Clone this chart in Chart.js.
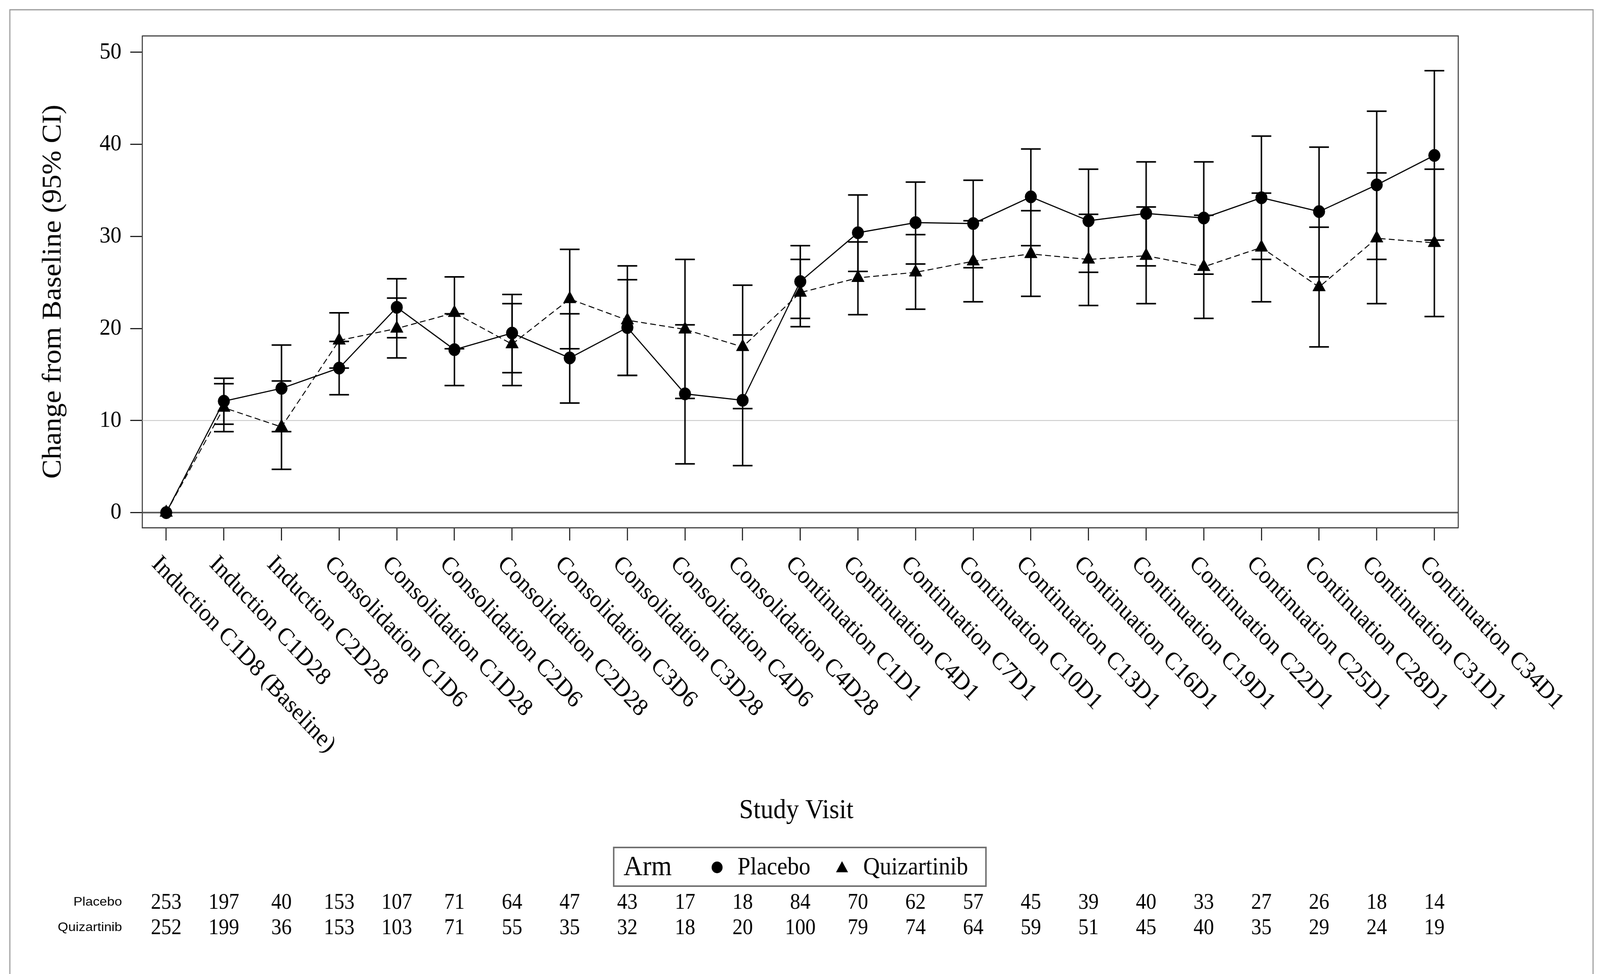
<!DOCTYPE html>
<html>
<head>
<meta charset="utf-8">
<title>Change from Baseline by Study Visit</title>
<script src="https://cdn.jsdelivr.net/npm/chart.js@4.4.1/dist/chart.umd.min.js"></script>
<style>
  html, body { margin: 0; padding: 0; background: #fff; overflow: hidden; }
  canvas { display: block; }
</style>
</head>
<body>
<canvas id="visitChart" width="4380" height="2494" style="width:100vw;height:100vh"></canvas>
<script>
var visits = ['Induction C1D8 (Baseline)', 'Induction C1D28', 'Induction C2D28',
  'Consolidation C1D6', 'Consolidation C1D28', 'Consolidation C2D6', 'Consolidation C2D28',
  'Consolidation C3D6', 'Consolidation C3D28', 'Consolidation C4D6', 'Consolidation C4D28',
  'Continuation C1D1', 'Continuation C4D1', 'Continuation C7D1', 'Continuation C10D1',
  'Continuation C13D1', 'Continuation C16D1', 'Continuation C19D1', 'Continuation C22D1',
  'Continuation C25D1', 'Continuation C28D1', 'Continuation C31D1', 'Continuation C34D1'];

// mean change and 95% CI
var placeboMean  = [0, 12.1, 13.5, 15.7, 22.3, 17.7, 19.5, 16.8, 20.1, 12.9, 12.2, 25.1, 30.4, 31.5, 31.4, 34.3, 31.7, 32.5, 32.0, 34.2, 32.7, 35.6, 38.8];
var placeboLower = [null, 9.6, 8.8, 12.8, 19.0, 13.8, 15.2, 11.9, 14.9, 5.3, 5.1, 21.1, 26.2, 27.0, 26.6, 29.0, 26.1, 26.8, 25.9, 27.5, 25.6, 27.5, 29.6];
var placeboUpper = [null, 14.6, 18.2, 18.6, 25.4, 21.6, 23.7, 21.6, 25.3, 20.4, 19.3, 29.0, 34.5, 35.9, 36.1, 39.5, 37.3, 38.1, 38.1, 40.9, 39.7, 43.6, 48.0];

var quizMean  = [0, 11.4, 9.3, 18.7, 20.0, 21.7, 18.3, 23.2, 20.9, 19.9, 18.0, 23.9, 25.5, 26.1, 27.3, 28.1, 27.5, 27.9, 26.7, 28.8, 24.5, 29.8, 29.3];
var quizLower = [null, 8.8, 4.7, 15.7, 16.8, 17.8, 13.8, 17.8, 14.9, 12.4, 11.3, 20.2, 21.5, 22.1, 22.9, 23.5, 22.5, 22.7, 21.1, 22.9, 18.0, 22.7, 21.3];
var quizUpper = [null, 14.0, 14.3, 21.7, 23.3, 25.6, 22.7, 28.6, 26.8, 27.5, 24.7, 27.5, 29.4, 30.2, 31.7, 32.8, 32.4, 33.2, 32.3, 34.7, 31.0, 36.9, 37.3];

// patients at each visit
var placeboN = [253, 197, 40, 153, 107, 71, 64, 47, 43, 17, 18, 84, 70, 62, 57, 45, 39, 40, 33, 27, 26, 18, 14];
var quizN    = [252, 199, 36, 153, 103, 71, 55, 35, 32, 18, 20, 100, 79, 74, 64, 59, 51, 45, 40, 35, 29, 24, 19];

var yTicks = [0, 10, 20, 30, 40, 50];
var refLines = [10];

var serif = '"Liberation Serif", "DejaVu Serif", serif';
var sans = '"Liberation Sans", Arial, sans-serif';

function toPoints(values) {
  return values.map(function (v, i) { return { x: i, y: v }; });
}

function drawTriangle(ctx, x, y, r) {
  ctx.beginPath();
  ctx.moveTo(x, y - r);
  ctx.lineTo(x + r * Math.sin(Math.PI / 3), y + r / 2);
  ctx.lineTo(x - r * Math.sin(Math.PI / 3), y + r / 2);
  ctx.closePath();
  ctx.fill();
}

// small sans labels look a bit wide in the original
function wideText(ctx, text, x, y) {
  ctx.save();
  ctx.translate(x, y);
  ctx.scale(1.15, 1);
  ctx.fillText(text, 0, 0);
  ctx.restore();
}

var decor = {
  id: 'decor',
  beforeDatasetsDraw: function (chart) {
    var ctx = chart.ctx, area = chart.chartArea;
    var xs = chart.scales.x, ys = chart.scales.y;
    ctx.save();
    // light reference line and darker zero line
    refLines.forEach(function (v) {
      var py = ys.getPixelForValue(v);
      ctx.strokeStyle = '#c4c4c4';
      ctx.lineWidth = 2;
      ctx.beginPath(); ctx.moveTo(area.left, py); ctx.lineTo(area.right, py); ctx.stroke();
    });
    var p0 = ys.getPixelForValue(0);
    ctx.strokeStyle = '#555';
    ctx.lineWidth = 4;
    ctx.beginPath(); ctx.moveTo(area.left, p0); ctx.lineTo(area.right, p0); ctx.stroke();

    // error bars
    ctx.strokeStyle = '#000';
    ctx.lineWidth = 4;
    var bars = [[placeboLower, placeboUpper], [quizLower, quizUpper]];
    bars.forEach(function (b) {
      for (var i = 0; i < visits.length; i++) {
        if (b[0][i] === null) continue;
        var px = xs.getPixelForValue(i);
        var lo = ys.getPixelForValue(b[0][i]);
        var hi = ys.getPixelForValue(b[1][i]);
        ctx.beginPath();
        ctx.moveTo(px, lo); ctx.lineTo(px, hi);
        ctx.moveTo(px - 27, lo); ctx.lineTo(px + 27, lo);
        ctx.moveTo(px - 27, hi); ctx.lineTo(px + 27, hi);
        ctx.stroke();
      }
    });
    ctx.restore();
  },
  afterDraw: function (chart) {
    var ctx = chart.ctx, area = chart.chartArea;
    var xs = chart.scales.x;
    ctx.save();

    // outer figure border
    ctx.strokeStyle = '#9a9a9a';
    ctx.lineWidth = 3;
    ctx.beginPath();
    ctx.moveTo(27, 2494); ctx.lineTo(27, 25); ctx.lineTo(4361, 25); ctx.lineTo(4361, 2494);
    ctx.stroke();

    // plot frame top / right
    ctx.strokeStyle = '#444';
    ctx.lineWidth = 3;
    ctx.beginPath();
    ctx.moveTo(area.left, area.top); ctx.lineTo(area.right, area.top); ctx.lineTo(area.right, area.bottom);
    ctx.stroke();

    ctx.fillStyle = '#000';

    // rotated visit labels
    ctx.font = '63px ' + serif;
    ctx.textAlign = 'left';
    ctx.textBaseline = 'alphabetic';
    visits.forEach(function (v, i) {
      ctx.save();
      ctx.translate(xs.getPixelForValue(i) - 42, 1447);
      ctx.rotate(Math.PI / 4);
      ctx.fillText(v, 0, 0);
      ctx.restore();
    });

    // axis titles
    ctx.font = '70px ' + serif;
    ctx.textAlign = 'center';
    ctx.fillText('Study Visit', 2180, 2095);

    ctx.save();
    ctx.translate(147, 747);
    ctx.rotate(-Math.PI / 2);
    ctx.font = '74px ' + serif;
    ctx.textBaseline = 'middle';
    ctx.fillText('Change from Baseline (95% CI)', 0, 0);
    ctx.restore();

    // legend box
    ctx.strokeStyle = '#707070';
    ctx.lineWidth = 4;
    ctx.strokeRect(1680, 2170, 1019, 99);
    ctx.textBaseline = 'middle';
    ctx.textAlign = 'left';
    ctx.font = '72px ' + serif;
    ctx.fillText('Arm', 1707, 2222);
    ctx.font = '63px ' + serif;
    ctx.beginPath(); ctx.arc(1963, 2221, 15, 0, Math.PI * 2); ctx.fill();
    ctx.fillText(chart.data.datasets[0].label, 2019, 2222);
    drawTriangle(ctx, 2305, 2224, 19);
    ctx.fillText(chart.data.datasets[1].label, 2363, 2222);

    // patients-at-visit table
    ctx.font = '32px ' + sans;
    ctx.textAlign = 'right';
    wideText(ctx, 'Placebo', 334, 2310);
    wideText(ctx, 'Quizartinib', 334, 2375);
    ctx.font = '56px ' + serif;
    ctx.textAlign = 'center';
    for (var i = 0; i < visits.length; i++) {
      var px = xs.getPixelForValue(i);
      ctx.fillText(String(placeboN[i]), px, 2312);
      ctx.fillText(String(quizN[i]), px, 2377);
    }
    ctx.restore();
  }
};

var ctx = document.getElementById('visitChart').getContext('2d');

var chart = new Chart(ctx, {
  type: 'line',
  data: {
    datasets: [{
      label: 'Placebo',
      data: toPoints(placeboMean),
      borderColor: '#000',
      borderWidth: 3,
      pointStyle: 'circle',
      pointRadius: 16,
      pointBackgroundColor: '#000',
      pointBorderColor: '#000',
      pointBorderWidth: 1,
      tension: 0
    }, {
      label: 'Quizartinib',
      data: toPoints(quizMean),
      borderColor: '#000',
      borderWidth: 2.5,
      borderDash: [16, 9],
      pointStyle: 'triangle',
      pointRadius: 20,
      pointBackgroundColor: '#000',
      pointBorderColor: '#000',
      pointBorderWidth: 1,
      tension: 0
    }]
  },
  options: {
    responsive: false,
    devicePixelRatio: 1,
    animation: false,
    layout: { padding: { left: 0, top: 92, right: 388, bottom: 1043 } },
    scales: {
      x: {
        type: 'linear',
        min: -0.415,
        max: 22.415,
        afterBuildTicks: function (scale) {
          scale.ticks = visits.map(function (v, i) { return { value: i }; });
        },
        afterFit: function (scale) { scale.height = 100; },
        ticks: { display: false },
        grid: { drawOnChartArea: false, drawTicks: true, tickLength: 33, tickWidth: 3, tickColor: '#222' },
        border: { display: true, color: '#444', width: 3 }
      },
      y: {
        min: -1.63,
        max: 51.78,
        afterBuildTicks: function (scale) {
          scale.ticks = yTicks.map(function (v) { return { value: v }; });
        },
        afterFit: function (scale) { scale.width = 389.5; },
        ticks: { color: '#000', padding: 24, font: { family: serif, size: 60 } },
        grid: { drawOnChartArea: false, drawTicks: true, tickLength: 33, tickWidth: 3, tickColor: '#222' },
        border: { display: true, color: '#444', width: 3 }
      }
    },
    plugins: {
      legend: { display: false },
      tooltip: { enabled: false }
    }
  },
  plugins: [decor]
});
</script>
</body>
</html>
